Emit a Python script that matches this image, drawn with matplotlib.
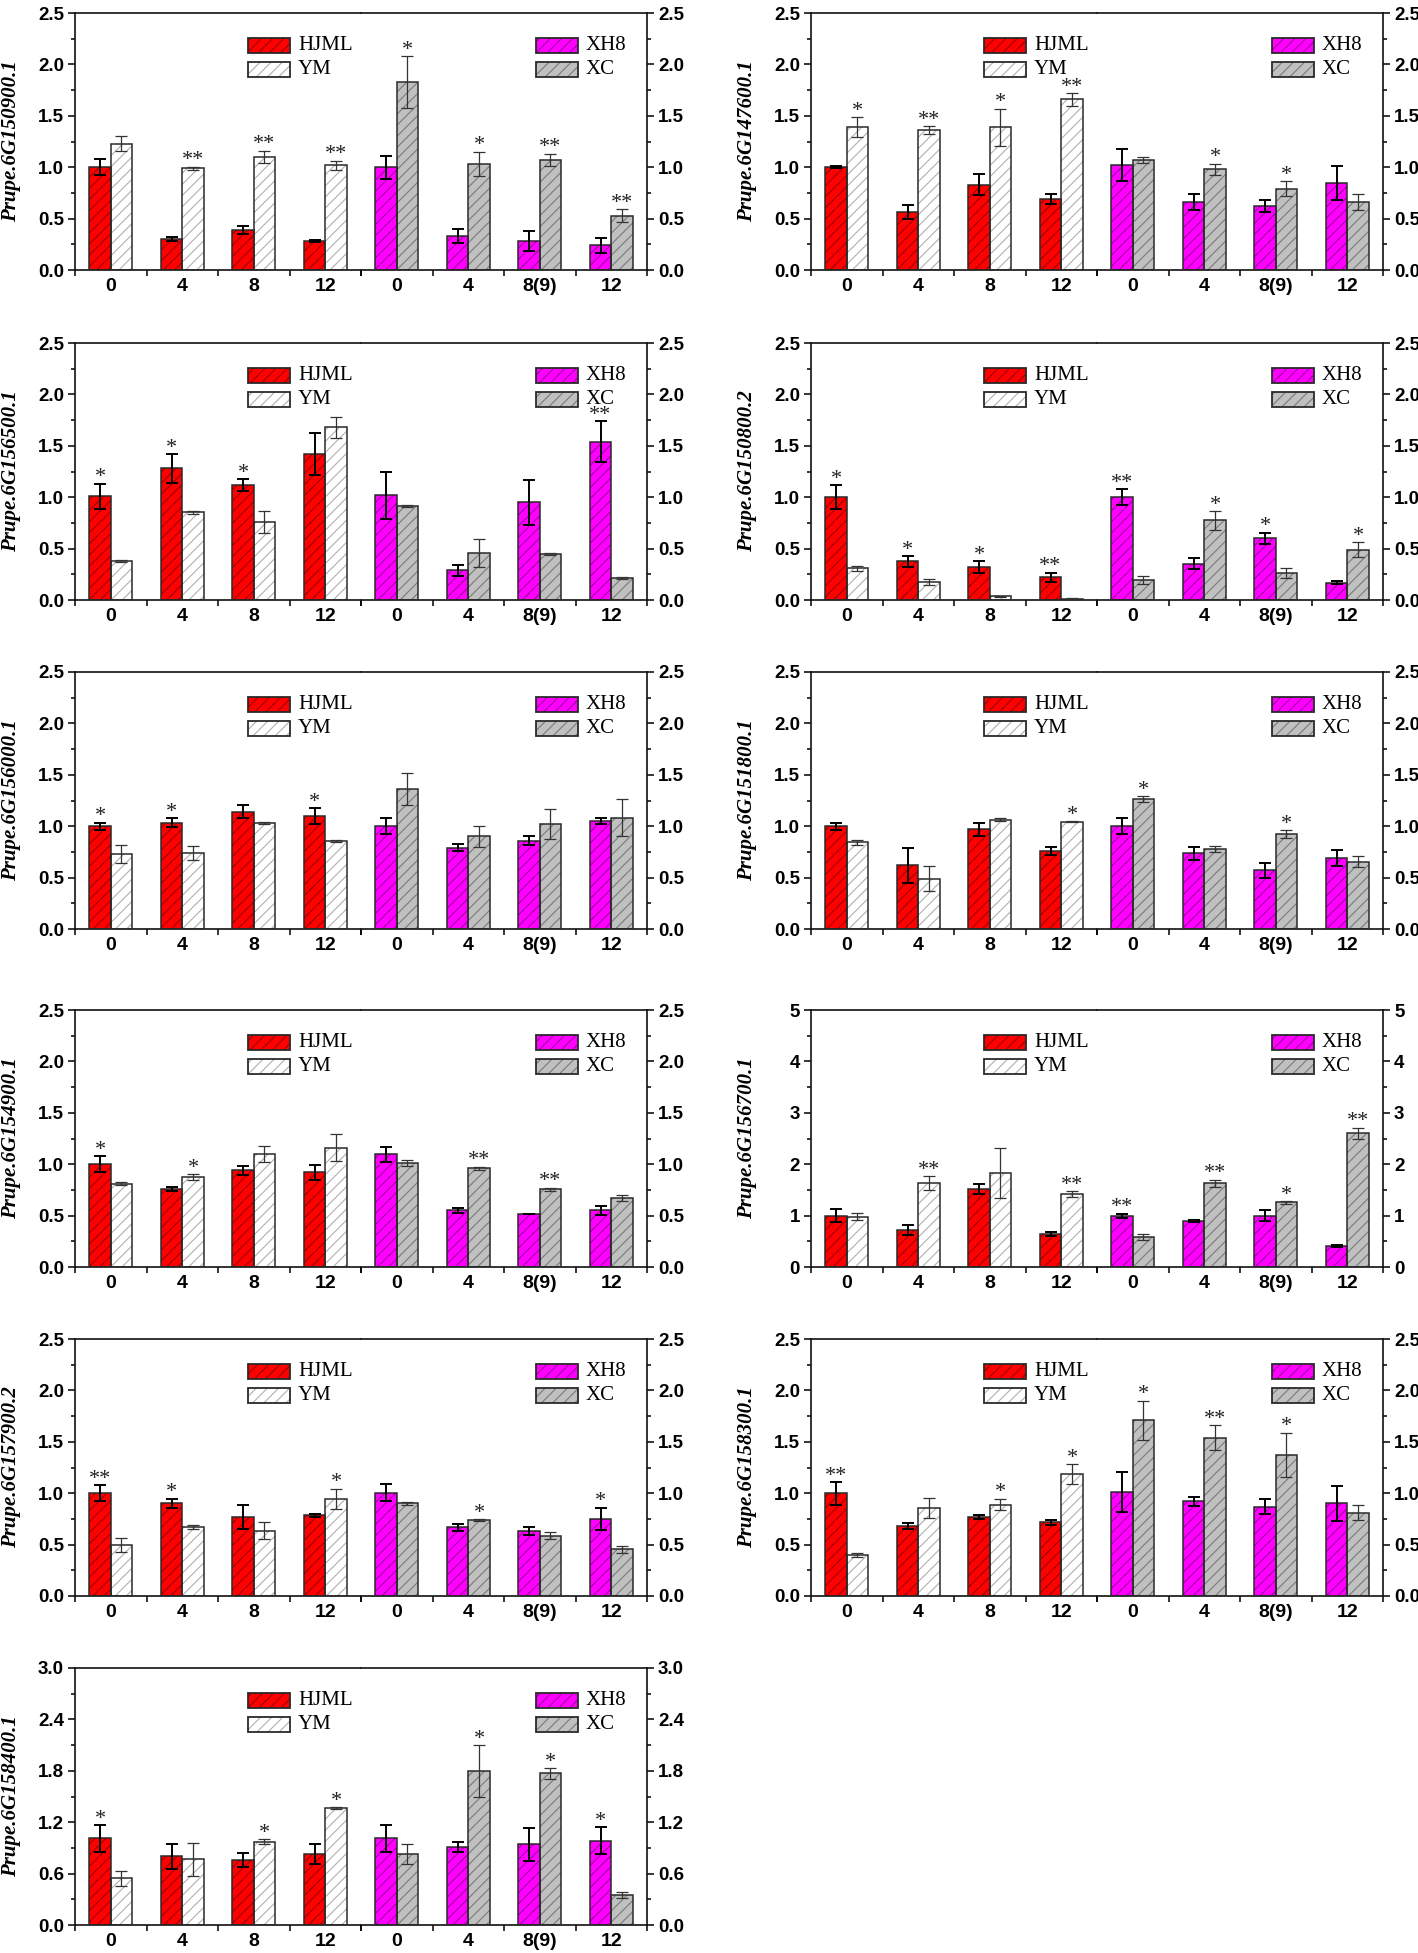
import matplotlib
matplotlib.use('Agg')
import matplotlib.pyplot as plt
from matplotlib.patches import Rectangle
from matplotlib.ticker import MultipleLocator

# ---------------- data ----------------
genes = ['Prupe.6G150900.1', 'Prupe.6G147600.1', 'Prupe.6G156500.1', 'Prupe.6G150800.2',
         'Prupe.6G156000.1', 'Prupe.6G151800.1', 'Prupe.6G154900.1', 'Prupe.6G156700.1',
         'Prupe.6G157900.2', 'Prupe.6G158300.1', 'Prupe.6G158400.1']
y_max = [2.5, 2.5, 2.5, 2.5, 2.5, 2.5, 2.5, 5, 2.5, 2.5, 3.0]
y_step = [0.5, 0.5, 0.5, 0.5, 0.5, 0.5, 0.5, 1, 0.5, 0.5, 0.6]
y_fmt = ['%.1f', '%.1f', '%.1f', '%.1f', '%.1f', '%.1f', '%.1f', '%d', '%.1f', '%.1f', '%.1f']

left_labels = ['0', '4', '8', '12']
right_labels = ['0', '4', '8(9)', '12']
series_names = ['HJML', 'YM', 'XH8', 'XC']

hjml = [[1.00, 0.30, 0.39, 0.285], [1.00, 0.565, 0.83, 0.69], [1.01, 1.28, 1.12, 1.42],
        [1.00, 0.375, 0.32, 0.22], [1.00, 1.035, 1.14, 1.10], [1.00, 0.62, 0.97, 0.76],
        [1.00, 0.755, 0.94, 0.92], [1.00, 0.725, 1.52, 0.65], [1.00, 0.90, 0.77, 0.785],
        [1.00, 0.68, 0.765, 0.715], [1.01, 0.80, 0.76, 0.83]]
hjml_err = [[0.08, 0.02, 0.04, 0.01], [0.01, 0.065, 0.10, 0.05], [0.12, 0.14, 0.055, 0.20],
            [0.115, 0.05, 0.055, 0.045], [0.035, 0.04, 0.065, 0.075], [0.035, 0.17, 0.065, 0.04],
            [0.08, 0.02, 0.045, 0.075], [0.12, 0.10, 0.10, 0.04], [0.075, 0.045, 0.12, 0.015],
            [0.11, 0.03, 0.02, 0.02], [0.155, 0.15, 0.08, 0.12]]
hjml_sig = [['', '', '', ''], ['', '', '', ''], ['*', '*', '*', ''], ['*', '*', '*', '**'],
            ['*', '*', '', '*'], ['', '', '', ''], ['*', '', '', ''], ['', '', '', ''],
            ['**', '*', '', ''], ['**', '', '', ''], ['*', '', '', '']]

ym = [[1.23, 0.99, 1.10, 1.02], [1.39, 1.36, 1.39, 1.66], [0.375, 0.855, 0.76, 1.68],
      [0.31, 0.175, 0.035, 0.012], [0.73, 0.74, 1.035, 0.86], [0.845, 0.49, 1.065, 1.045],
      [0.81, 0.875, 1.10, 1.16], [0.98, 1.63, 1.83, 1.42], [0.495, 0.67, 0.635, 0.945],
      [0.40, 0.855, 0.89, 1.185], [0.545, 0.765, 0.97, 1.365]]
ym_err = [[0.07, 0.015, 0.06, 0.045], [0.095, 0.04, 0.18, 0.06], [0.01, 0.015, 0.11, 0.105],
          [0.025, 0.025, 0.005, 0.003], [0.085, 0.065, 0.01, 0.01], [0.025, 0.125, 0.01, 0.005],
          [0.015, 0.03, 0.08, 0.13], [0.07, 0.14, 0.48, 0.05], [0.065, 0.02, 0.08, 0.10],
          [0.02, 0.10, 0.055, 0.10], [0.085, 0.19, 0.03, 0.01]]
ym_sig = [['', '**', '**', '**'], ['*', '**', '*', '**'], ['', '', '', ''], ['', '', '', ''],
          ['', '', '', ''], ['', '', '', '*'], ['', '*', '', ''], ['', '**', '', '**'],
          ['', '', '', '*'], ['', '', '*', '*'], ['', '', '*', '*']]

xh8 = [[1.00, 0.33, 0.28, 0.24], [1.02, 0.66, 0.62, 0.845], [1.02, 0.29, 0.95, 1.54],
       [1.00, 0.355, 0.60, 0.17], [1.00, 0.79, 0.86, 1.05], [1.00, 0.735, 0.57, 0.69],
       [1.095, 0.55, 0.515, 0.55], [1.00, 0.89, 1.00, 0.41], [1.005, 0.67, 0.63, 0.75],
       [1.01, 0.92, 0.87, 0.90], [1.01, 0.91, 0.94, 0.985]]
xh8_err = [[0.11, 0.07, 0.095, 0.07], [0.155, 0.075, 0.06, 0.165], [0.23, 0.055, 0.22, 0.20],
           [0.08, 0.055, 0.055, 0.01], [0.075, 0.035, 0.04, 0.03], [0.075, 0.065, 0.07, 0.075],
           [0.075, 0.02, 0.0, 0.045], [0.04, 0.02, 0.10, 0.02], [0.08, 0.035, 0.04, 0.11],
           [0.195, 0.045, 0.07, 0.17], [0.16, 0.06, 0.195, 0.16]]
xh8_sig = [['', '', '', ''], ['', '', '', ''], ['', '', '', '**'], ['**', '', '*', ''],
           ['', '', '', ''], ['', '', '', ''], ['', '', '', ''], ['**', '', '', ''],
           ['', '', '', '*'], ['', '', '', ''], ['', '', '', '*']]

xc = [[1.83, 1.03, 1.07, 0.53], [1.07, 0.98, 0.79, 0.66], [0.915, 0.46, 0.445, 0.21],
      [0.195, 0.775, 0.26, 0.49], [1.36, 0.90, 1.02, 1.08], [1.265, 0.775, 0.925, 0.655],
      [1.01, 0.96, 0.757, 0.675], [0.58, 1.63, 1.255, 2.60], [0.90, 0.74, 0.585, 0.455],
      [1.71, 1.54, 1.375, 0.81], [0.83, 1.80, 1.77, 0.35]]
xc_err = [[0.25, 0.12, 0.06, 0.06], [0.025, 0.055, 0.075, 0.08], [0.01, 0.135, 0.01, 0.01],
          [0.04, 0.09, 0.05, 0.07], [0.155, 0.105, 0.145, 0.18], [0.025, 0.03, 0.035, 0.055],
          [0.03, 0.015, 0.015, 0.03], [0.06, 0.07, 0.02, 0.11], [0.015, 0.01, 0.035, 0.035],
          [0.19, 0.12, 0.215, 0.075], [0.115, 0.30, 0.06, 0.03]]
xc_sig = [['*', '*', '**', '**'], ['', '*', '*', ''], ['', '', '', ''], ['', '*', '', '*'],
          ['', '', '', ''], ['*', '', '*', ''], ['', '**', '**', ''], ['', '**', '*', '**'],
          ['', '*', '', ''], ['*', '**', '*', ''], ['', '*', '*', '']]

# ---------------- styles ----------------
face = {'HJML': '#FF0000', 'YM': '#FFFFFF', 'XH8': '#FF00FF', 'XC': '#C0C0C0'}
hatchc = {'HJML': '#9A0000', 'YM': '#B0B0B0', 'XH8': '#A000A0', 'XC': '#7A7A7A'}
errc = {'HJML': '#000000', 'YM': '#333333', 'XH8': '#000000', 'XC': '#333333'}
errw = {'HJML': 1.4, 'YM': 0.9, 'XH8': 1.4, 'XC': 0.9}
EDGE = '#2a2a2a'
HATCH = '///'
SANS = ['Liberation Sans', 'DejaVu Sans']
SERIF = ['Liberation Serif', 'DejaVu Serif']
plt.rcParams['hatch.linewidth'] = 0.8

W, H = 1418, 1953
fig = plt.figure(figsize=(W / 100, H / 100), dpi=100)

col_left = [75, 811]
col_width = 572
row_top = [13, 343, 672, 1010, 1339, 1668]
ax_h = 257
BW = 0.3


def fx(px):
    return px / W


def fy(py):
    return 1 - py / H


def draw_half(ax, a_vals, a_err, a_sig, a_name, b_vals, b_err, b_sig, b_name, xlabels, ytop):
    x = list(range(4))
    for vals, errs, sigs, name, off in ((a_vals, a_err, a_sig, a_name, -BW / 2),
                                        (b_vals, b_err, b_sig, b_name, BW / 2)):
        xs = [xi + off for xi in x]
        ax.bar(xs, vals, BW, color=face[name], edgecolor=hatchc[name], hatch=HATCH,
               linewidth=0, zorder=2)
        ax.bar(xs, vals, BW, fill=False, edgecolor=EDGE, linewidth=1.1, zorder=3)
        ax.errorbar(xs, vals, yerr=errs, fmt='none', ecolor=errc[name], elinewidth=errw[name],
                    capsize=4.5, capthick=errw[name], zorder=4)
        for xi, v, e, s in zip(xs, vals, errs, sigs):
            if s:
                ax.annotate(s, xy=(xi, v + e), xytext=(0, 1.0), textcoords='offset points',
                            ha='center', va='baseline', fontsize=16, family=SERIF,
                            color='#222222', zorder=5)
    ax.set_xlim(-0.5, 3.5)
    ax.set_ylim(0, ytop)
    ax.set_xticks([-0.5, 0.5, 1.5, 2.5, 3.5])
    ax.set_xticklabels([])
    ax.set_xticks(x, minor=True)
    ax.set_xticklabels(xlabels, minor=True, fontsize=14, fontweight='bold', family=SANS)
    ax.tick_params(axis='x', which='major', direction='out', length=4, width=1.1)
    ax.tick_params(axis='x', which='minor', length=0, pad=6)
    for sp in ax.spines.values():
        sp.set_linewidth(1.2)
        sp.set_color('#111111')


def legend_entry(ax, x0, ytop_frac, name):
    w, h = 0.147, 0.058
    ax.add_patch(Rectangle((x0, ytop_frac - h), w, h, transform=ax.transAxes,
                           facecolor=face[name], edgecolor=hatchc[name], hatch=HATCH,
                           linewidth=0, clip_on=False, zorder=6))
    ax.add_patch(Rectangle((x0, ytop_frac - h), w, h, transform=ax.transAxes,
                           fill=False, edgecolor=EDGE, linewidth=1.3, clip_on=False, zorder=7))
    ax.text(x0 + w + 0.027, ytop_frac - h / 2, name, transform=ax.transAxes,
            ha='left', va='center', fontsize=15, family=SERIF, zorder=7)


for i, gene in enumerate(genes):
    r, c = divmod(i, 2)
    left = col_left[c]
    top = row_top[r]
    half = col_width / 2
    axL = fig.add_axes([fx(left), fy(top + ax_h), fx(half), ax_h / H])
    axR = fig.add_axes([fx(left + half), fy(top + ax_h), fx(half), ax_h / H])

    draw_half(axL, hjml[i], hjml_err[i], hjml_sig[i], 'HJML', ym[i], ym_err[i], ym_sig[i], 'YM',
              left_labels, y_max[i])
    draw_half(axR, xh8[i], xh8_err[i], xh8_sig[i], 'XH8', xc[i], xc_err[i], xc_sig[i], 'XC',
              right_labels, y_max[i])

    for ax in (axL, axR):
        ax.yaxis.set_major_locator(MultipleLocator(y_step[i]))
        ax.yaxis.set_minor_locator(MultipleLocator(y_step[i] / 2))
    axL.spines['right'].set_visible(False)
    axR.spines['left'].set_visible(False)
    axL.tick_params(axis='y', which='both', left=True, right=False, direction='out',
                    width=1.1, labelsize=13.5, pad=3)
    axL.tick_params(axis='y', which='major', length=5)
    axL.tick_params(axis='y', which='minor', length=3)
    axR.yaxis.tick_right()
    axR.tick_params(axis='y', which='both', left=False, right=True, labelleft=False,
                    labelright=True, direction='out', width=1.1, labelsize=13.5, pad=3)
    axR.tick_params(axis='y', which='major', length=5)
    axR.tick_params(axis='y', which='minor', length=3)
    fmt = y_fmt[i]
    for ax in (axL, axR):
        ticks = ax.get_yticks()
        ticks = [t for t in ticks if -1e-9 <= t <= y_max[i] + 1e-9]
        ax.set_yticks(ticks)
        ax.set_yticklabels([fmt % t for t in ticks], fontweight='bold', family=SANS)
        ax.set_ylim(0, y_max[i])

    legend_entry(axL, 0.606, 0.903, 'HJML')
    legend_entry(axL, 0.606, 0.809, 'YM')
    legend_entry(axR, 0.611, 0.903, 'XH8')
    legend_entry(axR, 0.611, 0.809, 'XC')

    fig.text(fx(left - 64), fy(top + ax_h / 2), gene, rotation=90, ha='center', va='center',
             fontsize=15, fontweight='bold', fontstyle='italic', family=SERIF)

fig.savefig('out.png', dpi=100, facecolor='white')
